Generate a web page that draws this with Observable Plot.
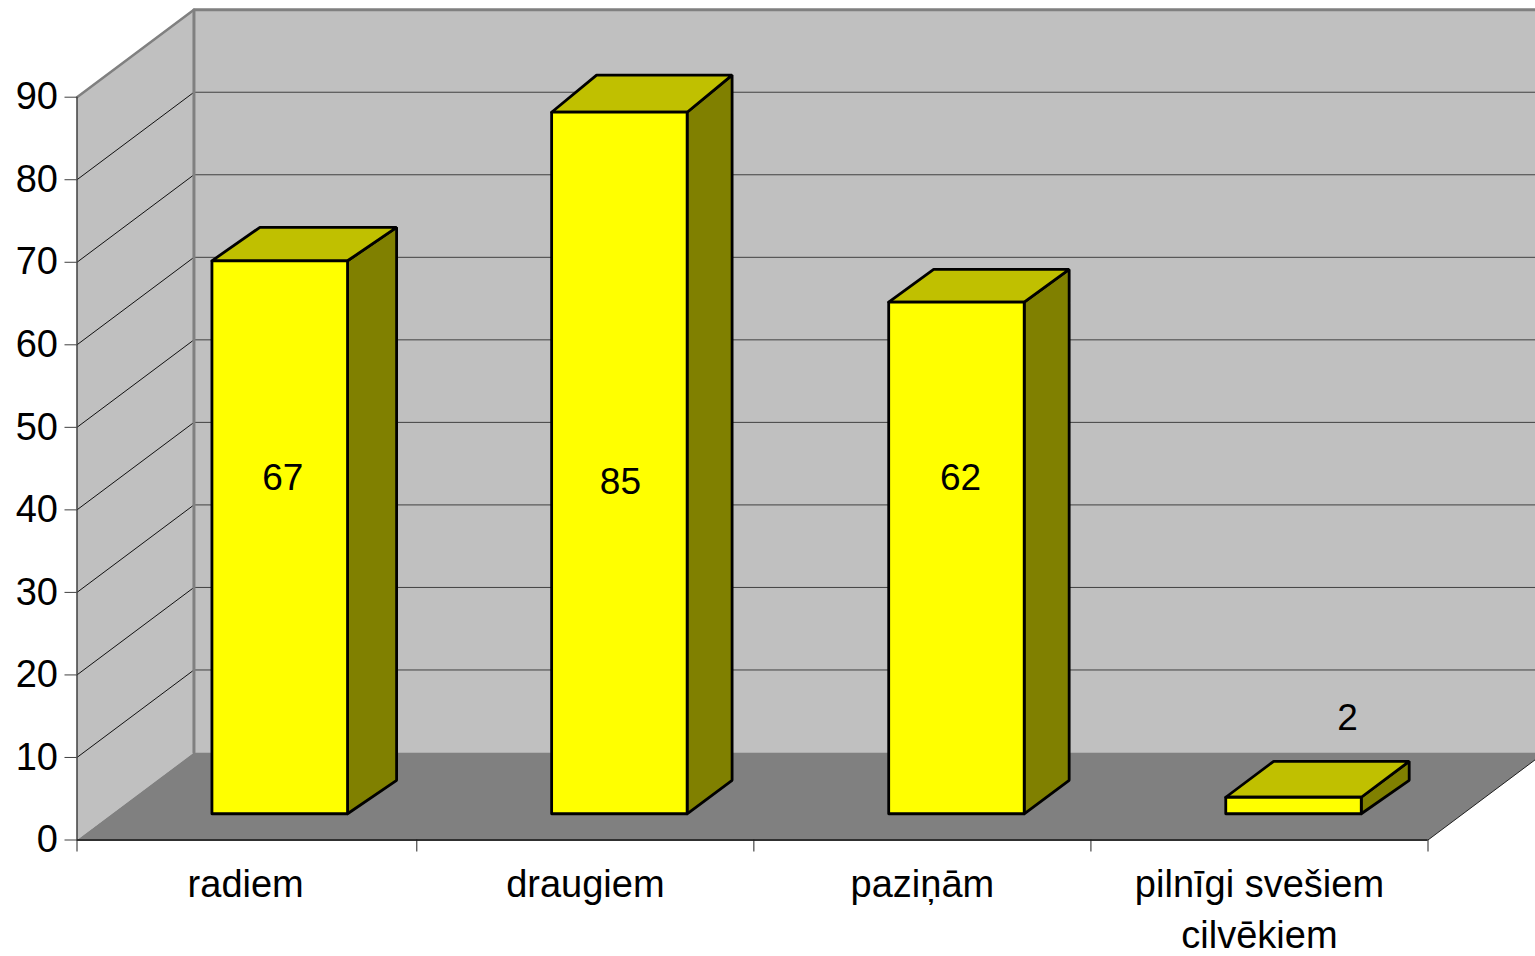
<!DOCTYPE html>
<html>
<head>
<meta charset="utf-8">
<script src="https://cdn.jsdelivr.net/npm/d3@7"></script>
<script src="https://cdn.jsdelivr.net/npm/@observablehq/plot@0.6"></script>
<style>
html,body{margin:0;padding:0;background:#fff;overflow:hidden}
</style>
</head>
<body>
<div id="chart"></div>
<script>
// ---- data ----
const categories = ["radiem", "draugiem", "paziņām", "pilnīgi svešiem\ncilvēkiem"];
const values = [67, 85, 62, 2];
const valueTicks = [0, 10, 20, 30, 40, 50, 60, 70, 80, 90];

// ---- 3-D projection, expressed in data units ----
const wallDepthX = 0.3467;   // category widths per unit of depth
const wallDepthY = 10.6;     // value units per unit of depth
const barFrontZ = 0.30;
const barStart = 0.296;
const barWidth = 0.402;
const barDepthX = [0.1422, 0.1334, 0.1334, 0.1422];
const barTopDepthY = [4.05, 4.5, 3.95, 4.35];
const barBaseDepthY = 4.05;
const labelAtX = [0.61, 0.604, 0.613, 0.761];
const labelAtY = [43.9, 43.4, 43.9, 14.8];

const project = (x, v, z = 0) => ({x: x + z * wallDepthX, y: v + z * wallDepthY});
const ring = (id, pts) => [...pts, pts[0]].map((p) => ({...p, id}));
const cats = d3.range(categories.length);
const n = categories.length;
const maxValue = d3.max(valueTicks);

const backWall = ring("back", [project(0, 0, 1), project(n, 0, 1), project(n, maxValue, 1), project(0, maxValue, 1)]);
const sideWall = ring("side", [project(0, 0, 0), project(0, 0, 1), project(0, maxValue, 1), project(0, maxValue, 0)]);
const floorPlane = ring("floor", [project(0, 0, 0), project(n, 0, 0), project(n, 0, 1), project(0, 0, 1)]);
const inner = valueTicks.filter((v) => v > 0 && v < maxValue);
const backGrid = inner.flatMap((v) => [project(0, v, 1), project(n, v, 1)].map((p) => ({...p, id: v})));
const sideGrid = inner.flatMap((v) => [project(0, v, 0), project(0, v, 1)].map((p) => ({...p, id: v})));

const corner = (i, across, v, back) => {
  const p = project(i + barStart + across * barWidth, v, barFrontZ);
  return {x: p.x + back * barDepthX[i], y: p.y + back * (v > 0 ? barTopDepthY[i] : barBaseDepthY)};
};
const barFront = cats.flatMap((i) => ring(i, [corner(i, 0, 0, 0), corner(i, 1, 0, 0), corner(i, 1, values[i], 0), corner(i, 0, values[i], 0)]));
const barSide = cats.flatMap((i) => ring(i, [corner(i, 1, 0, 0), corner(i, 1, 0, 1), corner(i, 1, values[i], 1), corner(i, 1, values[i], 0)]));
const barTop = cats.flatMap((i) => ring(i, [corner(i, 0, values[i], 0), corner(i, 1, values[i], 0), corner(i, 1, values[i], 1), corner(i, 0, values[i], 1)]));

const poly = (data, o) => Plot.line(data, {x: "x", y: "y", z: "id", ...o});
const barEdge = {stroke: "black", strokeWidth: 2.8, strokeLinejoin: "miter"};

const chart = Plot.plot({
  width: 1535,
  height: 956,
  marginLeft: 76.5,
  marginRight: 107.5,
  marginTop: 96.7,
  marginBottom: 116.5,
  style: {fontFamily: "'Liberation Sans', Arial, sans-serif", background: "#fff"},
  x: {type: "linear", domain: [0, 0.9, 1, 4], range: [76.5, 380.1, 416.3, 1427.5], axis: null},
  y: {domain: [0, 90], range: [839.5, 96.7], axis: null},
  marks: [
    poly(backWall, {fill: "#c0c0c0", stroke: "none"}),
    poly(sideWall, {fill: "#c0c0c0", stroke: "none"}),
    poly(backGrid, {stroke: "#404040", strokeWidth: 1}),
    poly(sideGrid, {stroke: "#111", strokeWidth: 1}),
    poly(floorPlane, {fill: "#808080", stroke: "none"}),
    // wall edges
    Plot.line([project(0, 0, 1), project(0, maxValue, 1), project(n, maxValue, 1)], {x: "x", y: "y", stroke: "#808080", strokeWidth: 3}),
    Plot.line([project(0, maxValue, 0), project(0, maxValue, 1)], {x: "x", y: "y", stroke: "#808080", strokeWidth: 2.5}),
    Plot.line([project(n, 0, 0), project(n, 0, 1)], {x: "x", y: "y", stroke: "#222", strokeWidth: 1}),
    // axes
    Plot.ruleX([0], {y1: 0, y2: maxValue, stroke: "#404040", strokeWidth: 1.5}),
    Plot.ruleY([0], {x1: 0, x2: n, stroke: "#303030", strokeWidth: 2}),
    Plot.axisY(valueTicks, {anchor: "left", tickSize: 12, tickPadding: 7, stroke: "#404040", fontSize: 38, label: null, tickFormat: String}),
    Plot.axisX(d3.range(n + 1), {anchor: "bottom", tickSize: 12, stroke: "#222", label: null, tickFormat: () => ""}),
    Plot.text(categories, {
      x: (d, i) => i + 0.5,
      y: () => 0,
      text: (d) => d,
      lineAnchor: "top",
      dy: 20.5,
      lineHeight: 1.342,
      fontSize: 38,
      fill: "black"
    }),
    // bars
    poly(barSide, {fill: "#808000", ...barEdge}),
    poly(barTop, {fill: "#c0c000", ...barEdge}),
    poly(barFront, {fill: "#ffff00", ...barEdge}),
    Plot.text(values, {
      x: (d, i) => i + labelAtX[i],
      y: (d, i) => labelAtY[i],
      text: String,
      fontSize: 37,
      fill: "black"
    })
  ]
});
document.getElementById("chart").append(chart);
</script>
</body>
</html>
